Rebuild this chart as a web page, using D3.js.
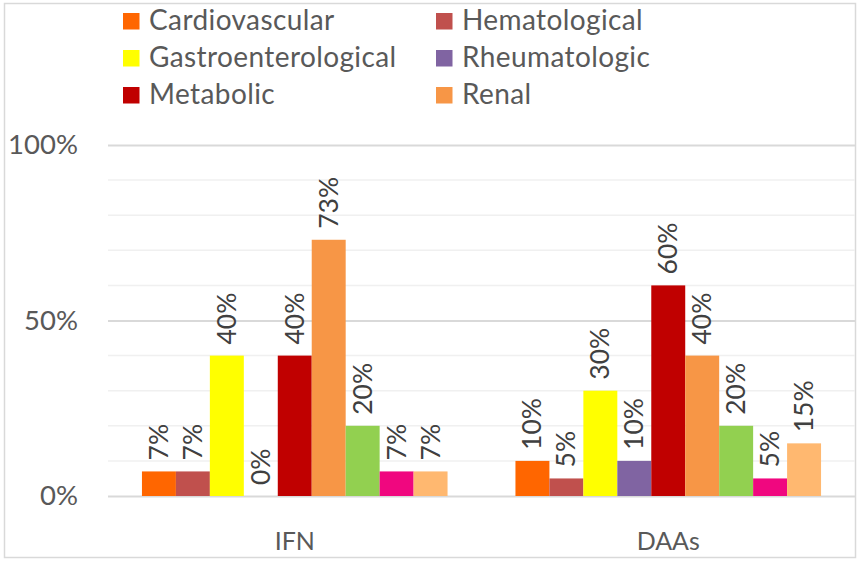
<!DOCTYPE html>
<html>
<head>
<meta charset="utf-8">
<script src="https://cdn.jsdelivr.net/npm/d3@7"></script>
<style>
  body { margin: 0; background: #fff; }
  text { font-family: Lato, "Open Sans", sans-serif; }
</style>
</head>
<body>
<div id="chart"></div>
<script>
const width = 860;
const height = 564;

// groups on the x axis
const groups = ["IFN", "DAAs"];
// series (only the first six appear in the legend, as in the original)
const series = [
  "Cardiovascular", "Hematological", "Gastroenterological", "Rheumatologic",
  "Metabolic", "Renal", "Neurological", "Dermatological", "Other"
];
const colors = [
  "#FF6600", "#C0504D", "#FFFF00", "#8064A2",
  "#C00000", "#F79646", "#92D050", "#F0077F", "#FFB870"
];
const ifnValues = [0.07, 0.07, 0.40, 0.00, 0.40, 0.73, 0.20, 0.07, 0.07];
const daaValues = [0.10, 0.05, 0.30, 0.10, 0.60, 0.40, 0.20, 0.05, 0.15];
const yTicks = [0, 0.5, 1];
const legendShown = 6;

const valuesByGroup = { IFN: ifnValues, DAAs: daaValues };

const svg = d3
  .select("#chart")
  .append("svg")
  .attr("width", width)
  .attr("height", height);

// outer frame
svg.append("rect")
  .attr("x", 4.5).attr("y", 3.5)
  .attr("width", 851).attr("height", 554)
  .attr("fill", "#fff")
  .attr("stroke", "#d9d9d9")
  .attr("stroke-width", 1.5);

const plot = { left: 108, right: 855, top: 145, bottom: 496 };

const x0 = d3.scaleBand().domain(groups).range([plot.left, plot.right]);
const x1 = d3.scaleBand().domain(series).range([0, x0.bandwidth()]).paddingOuter(1);
const y = d3.scaleLinear().domain([0, 1]).range([plot.bottom, plot.top]);
const color = d3.scaleOrdinal().domain(series).range(colors);

// minor gridlines every 10%
svg.append("g")
  .selectAll("line")
  .data(d3.range(0, 1.01, 0.1).filter((t) => !yTicks.some((m) => Math.abs(m - t) < 1e-6)))
  .join("line")
  .attr("x1", plot.left).attr("x2", plot.right)
  .attr("y1", (d) => y(d)).attr("y2", (d) => y(d))
  .attr("stroke", "#f0f0f0")
  .attr("stroke-width", 1.5);

// major gridlines + labels
const yAxis = d3.axisLeft(y)
  .tickValues(yTicks)
  .tickFormat(d3.format(".0%"))
  .tickSize(-(plot.right - plot.left))
  .tickPadding(30);

svg.append("g")
  .attr("transform", `translate(${plot.left},0)`)
  .call(yAxis)
  .call((g) => g.select(".domain").remove())
  .call((g) => g.selectAll(".tick line").attr("stroke", "#d9d9d9").attr("stroke-width", 2))
  .call((g) => g.selectAll(".tick text")
    .attr("fill", "#595959")
    .style("font-size", "27.5px")
    .style("font-family", "Lato, sans-serif"));

// bars
const groupG = svg.append("g")
  .selectAll("g")
  .data(groups)
  .join("g")
  .attr("transform", (d) => `translate(${x0(d)},0)`);

const cells = groupG
  .selectAll("g")
  .data((g) => series.map((s, i) => ({ group: g, name: s, value: valuesByGroup[g][i] })))
  .join("g");

cells.append("rect")
  .attr("x", (d) => x1(d.name))
  .attr("y", (d) => y(d.value))
  .attr("width", x1.bandwidth())
  .attr("height", (d) => y(0) - y(d.value))
  .attr("fill", (d) => color(d.name));

cells.append("text")
  .attr("transform", (d) =>
    `translate(${x1(d.name) + x1.bandwidth() / 2 + 9},${y(d.value) - 11}) rotate(-90)`)
  .attr("text-anchor", "start")
  .attr("fill", "#404040")
  .style("font-size", "26.5px")
  .text((d) => d3.format(".0%")(d.value));

// category labels
svg.append("g")
  .selectAll("text")
  .data(groups)
  .join("text")
  .attr("x", (d) => x0(d) + x0.bandwidth() / 2)
  .attr("y", 550)
  .attr("text-anchor", "middle")
  .attr("fill", "#595959")
  .style("font-size", "25px")
  .text((d) => d);

// legend: two columns, three rows
const legend = svg.append("g")
  .selectAll("g")
  .data(series.slice(0, legendShown))
  .join("g")
  .attr("transform", (d, i) => `translate(${i % 2 === 0 ? 123 : 436},${21 + Math.floor(i / 2) * 37})`);

legend.append("rect")
  .attr("x", 0).attr("y", -8)
  .attr("width", 16.5).attr("height", 16.5)
  .attr("fill", (d) => color(d));

legend.append("text")
  .attr("x", 26)
  .attr("y", 9)
  .attr("fill", "#595959")
  .style("font-size", "28px")
  .style("letter-spacing", "0.4px")
  .text((d) => d);
</script>
</body>
</html>
